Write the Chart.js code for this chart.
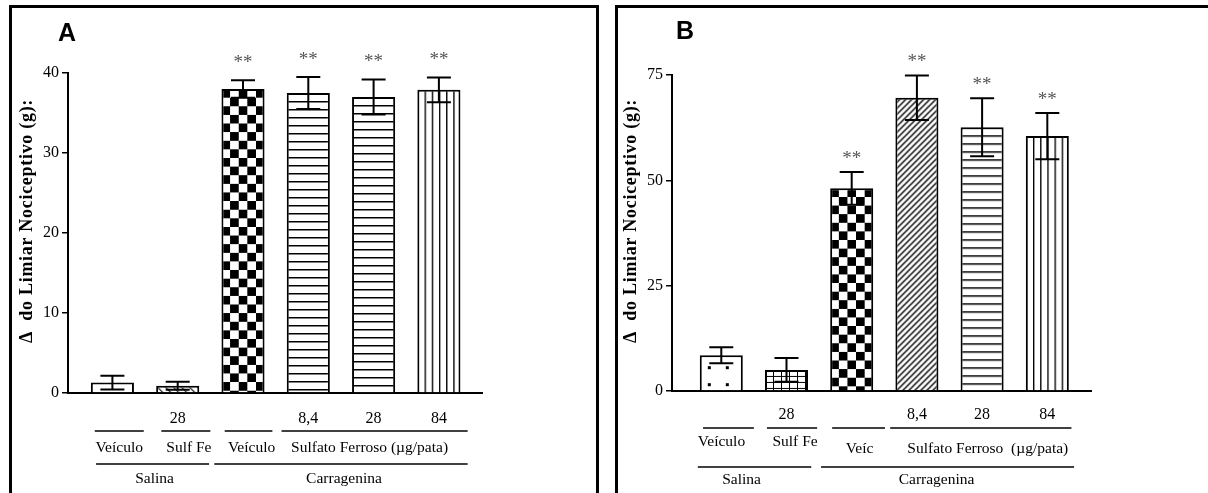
<!DOCTYPE html>
<html>
<head>
<meta charset="utf-8">
<script src="https://cdn.jsdelivr.net/npm/chart.js@4/dist/chart.umd.min.js"></script>
<style>
  html, body { margin: 0; padding: 0; background: #fff; overflow: hidden; }
  body { width: 1208px; height: 493px; position: relative; }
  .frame { position: absolute; box-sizing: border-box; border: 3px solid #000; }
  #frameA { left: 9px; top: 5px; width: 590px; height: 600px; }
  #frameB { left: 615px; top: 5px; width: 700px; height: 600px; }
  canvas { position: absolute; top: 0; }
  #chartA { left: 0; }
  #chartB { left: 604px; }
</style>
</head>
<body>
<div class="frame" id="frameA"></div>
<div class="frame" id="frameB"></div>
<canvas id="chartA" width="604" height="493"></canvas>
<canvas id="chartB" width="604" height="493"></canvas>
<script>
// categorias (mesmas nos dois painéis)
const categories = ['Salina + Veículo', 'Salina + Sulf Fe 28', 'Carragenina + Veículo', 'Carragenina + SF 8,4', 'Carragenina + SF 28', 'Carragenina + SF 84'];
const doseLabels = ['', '28', '', '8,4', '28', '84'];

// painel A
const meanA = [1.3, 0.9, 38.0, 37.5, 37.0, 37.9];
const semA = [0.85, 0.5, 1.1, 2.0, 2.2, 1.55];
const starsA = ['', '', '**', '**', '**', '**'];
const yTicksA = [0, 10, 20, 30, 40];
const patternsA = ['dots', 'diagDown', 'checker', 'hlines', 'hlines', 'vlines'];
const subGroupsA = ['Veículo', 'Sulf Fe', 'Veículo', 'Sulfato Ferroso (µg/pata)'];

// painel B
const meanB = [8.5, 5.0, 48.1, 69.6, 62.6, 60.5];
const semB = [1.9, 2.8, 3.9, 5.3, 6.9, 5.5];
const starsB = ['', '', '**', '**', '**', '**'];
const yTicksB = [0, 25, 50, 75];
const patternsB = ['dots', 'grid', 'checker', 'diagUp', 'hlines', 'vlines'];
const subGroupsB = ['Veículo', 'Sulf Fe', 'Veíc', 'Sulfato Ferroso  (µg/pata)'];

// grupos abaixo do eixo
const subGroupSpans = [[0, 0], [1, 1], [2, 2], [3, 5]];
const mainGroups = ['Salina', 'Carragenina'];
const mainGroupSpans = [[0, 1], [2, 5]];

const yTitle = 'Δ  do Limiar Nociceptivo (g):';
const serif = "'Liberation Serif', 'Times New Roman', serif";

// tiles das hachuras
const tiles = {
  dots: { w: 18, h: 17, paint: (g) => g.fillRect(8, 11, 3, 3) },
  diagDown: { w: 8, h: 8, paint: (g) => {
    g.lineWidth = 1.1;
    g.beginPath();
    g.moveTo(-2, -2); g.lineTo(10, 10);
    g.moveTo(-2, 6); g.lineTo(2, 10);
    g.moveTo(6, -2); g.lineTo(10, 2);
    g.stroke();
  } },
  diagUp: { w: 6, h: 6, paint: (g) => {
    g.lineWidth = 1.4;
    g.beginPath();
    g.moveTo(-1, 7); g.lineTo(7, -1);
    g.moveTo(-1, 1); g.lineTo(1, -1);
    g.moveTo(5, 7); g.lineTo(7, 5);
    g.stroke();
  } },
  grid: { w: 8, h: 6, paint: (g) => { g.fillRect(0, 0, 8, 1); g.fillRect(0, 0, 1, 6); } },
  checker: { w: 20, h: 20, cols: 2.5, paint: (g) => { g.fillRect(0, 0, 10, 10); g.fillRect(10, 10, 10, 10); } },
  hlines: { w: 8, h: 8, paint: (g) => g.fillRect(0, 0, 8, 1.5) },
  vlines: { w: 8, h: 8, cols: 6, paint: (g) => g.fillRect(0, 0, 1.5, 8) },
};

const makePattern = (kind, ctx) => {
  const t = tiles[kind];
  const c = document.createElement('canvas');
  c.width = t.w;
  c.height = t.h;
  const g = c.getContext('2d');
  g.fillStyle = '#fff';
  g.fillRect(0, 0, t.w, t.h);
  g.fillStyle = '#000';
  g.strokeStyle = '#000';
  t.paint(g);
  return { pattern: ctx.createPattern(c, 'repeat'), tile: t };
};

const extras = {
  id: 'extras',
  beforeDatasetsDraw(chart, args, opts) {
    // alinhar cada hachura ao canto superior esquerdo da barra
    chart.getDatasetMeta(0).data.forEach((bar, i) => {
      const p = opts.fills[i];
      const s = p.tile.cols ? bar.width / (p.tile.w * p.tile.cols) : 1;
      p.pattern.setTransform(new DOMMatrix([s, 0, 0, s, bar.x - bar.width / 2, bar.y]));
    });
  },
  afterDatasetsDraw(chart, args, opts) {
    const ctx = chart.ctx;
    const y = chart.scales.y;
    ctx.save();
    ctx.strokeStyle = '#000';
    ctx.lineWidth = 2;
    chart.getDatasetMeta(0).data.forEach((bar, i) => {
      const hi = y.getPixelForValue(opts.mean[i] + opts.sem[i]);
      const lo = y.getPixelForValue(opts.mean[i] - opts.sem[i]);
      ctx.beginPath();
      ctx.moveTo(bar.x, lo); ctx.lineTo(bar.x, hi);
      ctx.moveTo(bar.x - 12, hi); ctx.lineTo(bar.x + 12, hi);
      ctx.moveTo(bar.x - 12, lo); ctx.lineTo(bar.x + 12, lo);
      ctx.stroke();
      if (opts.stars[i]) {
        ctx.fillStyle = '#555';
        ctx.font = '19px ' + serif;
        ctx.textAlign = 'center';
        ctx.textBaseline = 'middle';
        ctx.fillText(opts.stars[i], bar.x, hi - opts.starGap);
      }
    });
    ctx.restore();
  },
  afterDraw(chart, args, opts) {
    const ctx = chart.ctx;
    const x = chart.scales.x;
    const base = chart.chartArea.bottom;
    ctx.save();
    ctx.fillStyle = '#000';
    ctx.strokeStyle = '#000';

    // letra do painel
    ctx.font = "bold 25px 'Liberation Sans', Arial, sans-serif";
    ctx.textAlign = 'center';
    ctx.textBaseline = 'middle';
    ctx.fillText(opts.letter, opts.letterX, opts.letterY);

    // título do eixo y
    ctx.save();
    ctx.translate(opts.titleX, opts.titleY);
    ctx.rotate(-Math.PI / 2);
    ctx.font = 'bold 18px ' + serif;
    ctx.letterSpacing = '0.7px';
    ctx.fillText(yTitle, 0, 0);
    ctx.restore();

    // grupos
    ctx.lineWidth = 1.5;
    ctx.font = '15.5px ' + serif;
    const drawRow = (labels, spans, offs, lineY, textY, dx) => {
      labels.forEach((label, i) => {
        const x1 = x.getPixelForValue(spans[i][0] + offs[i][0]);
        const x2 = x.getPixelForValue(spans[i][1] + offs[i][1]);
        ctx.beginPath();
        ctx.moveTo(x1, base + lineY);
        ctx.lineTo(x2, base + lineY);
        ctx.stroke();
        ctx.fillText(label, (x1 + x2) / 2 + dx[i], base + textY[i]);
      });
    };
    drawRow(opts.subGroups, subGroupSpans, opts.subOffs, opts.line1, opts.subTextY, opts.subDx);
    drawRow(mainGroups, mainGroupSpans, opts.mainOffs, opts.line2, opts.mainTextY, opts.mainDx);
    ctx.restore();
  },
};

const buildChart = (canvasId, cfg) => {
  const canvas = document.getElementById(canvasId);
  const ctx = canvas.getContext('2d');
  const fills = cfg.patterns.map((k) => makePattern(k, ctx));
  const ticks = cfg.yTicks;

  return new Chart(canvas, {
    type: 'bar',
    data: {
      labels: categories,
      datasets: [{
        data: cfg.mean.map((v, i) => ({ x: i, y: v })),
        backgroundColor: fills.map((f) => f.pattern),
        borderColor: '#000',
        borderWidth: 2,
        borderSkipped: 'start',
        categoryPercentage: 1,
        barPercentage: 0.66,
      }],
    },
    options: {
      responsive: false,
      animation: false,
      events: [],
      layout: { padding: { top: cfg.padTop, right: cfg.padRight, bottom: 0, left: 0 } },
      plugins: {
        legend: { display: false },
        tooltip: { enabled: false },
        extras: {
          fills,
          mean: cfg.mean,
          sem: cfg.sem,
          stars: cfg.stars,
          starGap: cfg.starGap,
          letter: cfg.letter,
          letterX: cfg.letterX,
          letterY: cfg.letterY,
          titleX: 27,
          titleY: 221,
          subGroups: cfg.subGroups,
          subOffs: cfg.subOffs,
          mainOffs: cfg.mainOffs,
          line1: cfg.line1,
          line2: cfg.line2,
          subTextY: cfg.subTextY,
          mainTextY: cfg.mainTextY,
          subDx: cfg.subDx,
          mainDx: cfg.mainDx,
        },
      },
      scales: {
        x: {
          type: 'linear',
          offset: false,
          min: cfg.xMin,
          max: cfg.xMax,
          grid: { display: false, drawTicks: false, offset: false },
          border: { color: '#000', width: 2 },
          afterBuildTicks: (s) => { s.ticks = doseLabels.map((_, i) => ({ value: i })); },
          afterFit: (s) => { s.height = 493 - cfg.padTop - (ticks[ticks.length - 1] - ticks[0]) * cfg.pxPerUnit; },
          ticks: {
            autoSkip: false,
            maxRotation: 0,
            padding: cfg.doseGap,
            color: '#000',
            font: { family: serif, size: 16 },
            callback: (v) => doseLabels[v] ?? '',
          },
        },
        y: {
          min: ticks[0],
          max: ticks[ticks.length - 1],
          afterFit: (s) => { s.width = 68; },
          grid: { drawOnChartArea: false, tickLength: 6, color: '#000', lineWidth: 1.5 },
          border: { color: '#000', width: 2 },
          ticks: {
            stepSize: ticks[1] - ticks[0],
            padding: 3,
            color: '#000',
            font: { family: serif, size: 16 },
          },
        },
      },
    },
    plugins: [extras],
  });
};

buildChart('chartA', {
  mean: meanA, sem: semA, stars: starsA, yTicks: yTicksA, patterns: patternsA,
  subGroups: subGroupsA,
  padTop: 73, padRight: 122, pxPerUnit: 8, xMin: -0.68, xMax: 5.66,
  starGap: 17, letter: 'A', letterX: 67, letterY: 34, doseGap: 16,
  subOffs: [[-0.27, 0.48], [-0.25, 0.5], [-0.28, 0.45], [-0.41, 0.44]],
  mainOffs: [[-0.25, 0.48], [-0.44, 0.44]],
  line1: 38, line2: 71, subTextY: [55, 55, 55, 55], mainTextY: [86, 86],
  subDx: [0, 3, 3, -5], mainDx: [2, 3],
});

buildChart('chartB', {
  mean: meanB, sem: semB, stars: starsB, yTicks: yTicksB, patterns: patternsB,
  subGroups: subGroupsB,
  padTop: 75, padRight: 117, pxPerUnit: 4.213, xMin: -0.756, xMax: 5.67,
  starGap: 13, letter: 'B', letterX: 81, letterY: 32, doseGap: 14,
  subOffs: [[-0.28, 0.5], [-0.3, 0.47], [-0.3, 0.51], [-0.41, 0.37]],
  mainOffs: [[-0.36, 0.38], [-0.47, 0.41]],
  line1: 37, line2: 76, subTextY: [51, 51, 58, 58], mainTextY: [89, 89],
  subDx: [-7, 3, 1, 7], mainDx: [-13, -11],
});
</script>
</body>
</html>
